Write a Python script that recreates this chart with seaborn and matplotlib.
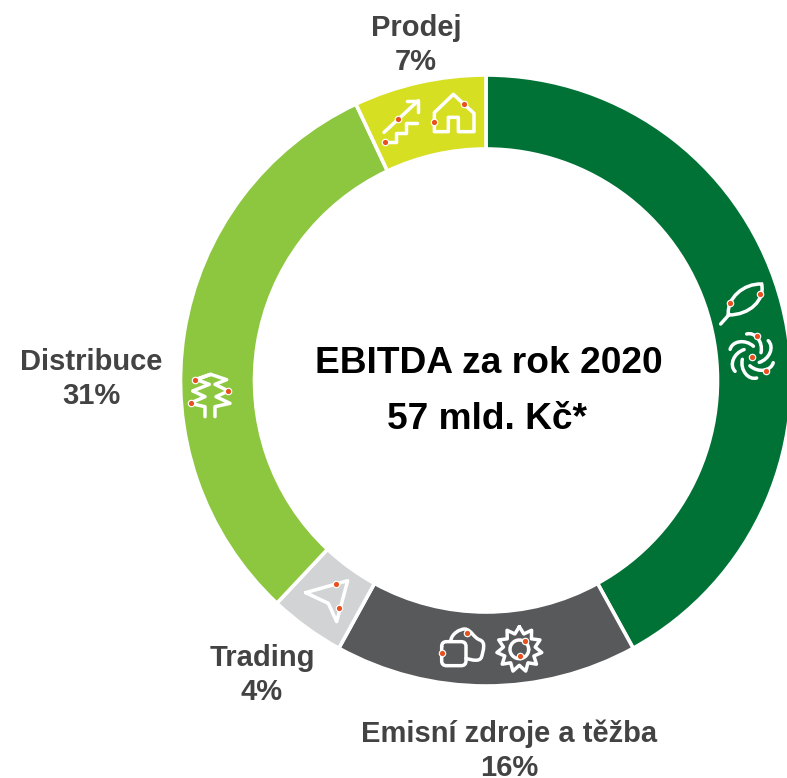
import numpy as np
import matplotlib
matplotlib.use("Agg")
import matplotlib.pyplot as plt
from matplotlib.path import Path
from matplotlib.patches import PathPatch
import seaborn as sns

categories = ["", "Emisní zdroje a těžba", "Trading", "Distribuce", "Prodej"]
values = [42, 16, 4, 31, 7]
colors = ["#007236", "#58595B", "#D1D3D4", "#8DC63F", "#D7DF23"]
title_lines = ["EBITDA za rok 2020", "57 mld. Kč*"]

W, H = 787, 778
sns.set_theme(style="white")
plt.rcParams["font.family"] = ["Liberation Sans", "DejaVu Sans"]
palette = sns.color_palette(colors)

fig = plt.figure(figsize=(W / 100, H / 100), dpi=100)
ax = fig.add_axes([0, 0, 1, 1])
ax.set_xlim(0, W)
ax.set_ylim(0, H)
ax.set_aspect("equal")
ax.axis("off")

CX, CY, R = 486, H - 380.5, 305.5
ax.pie(values, colors=palette, startangle=90, counterclock=False,
       center=(CX, CY), radius=R, frame=True,
       wedgeprops=dict(width=74, edgecolor="white", linewidth=2.6))
ax.set_xlim(0, W)
ax.set_ylim(0, H)
ax.axis("off")

LABEL_C = "#434343"
label_pos = {1: (509.5, 734), 2: (262, 658), 3: (91, 362), 4: (416, 28)}
for i, (x, y) in label_pos.items():
    ax.text(x, H - y, categories[i], ha="center", va="center", fontsize=21,
            fontweight="bold", color=LABEL_C)
    ax.text(x, H - y - 34, f"{values[i]}%", ha="center", va="center", fontsize=21,
            fontweight="bold", color=LABEL_C)

ax.text(488.5, H - 363, title_lines[0], ha="center", va="center", fontsize=26.7,
        fontweight="bold", color="black")
ax.text(487, H - 419, title_lines[1], ha="center", va="center", fontsize=26.7,
        fontweight="bold", color="black")

# ---- white line icons, given in crop coordinates (3x zoom, with crop origin)
LW = 2.5
DOT = "#E8501E"


def to_xy(pts, org):
    return [(org[0] + p[0] / 3, H - (org[1] + p[1] / 3)) for p in pts]


def line(pts, org, closed=False):
    xy = to_xy(pts, org)
    if closed:
        xy = xy + [xy[0]]
    ax.plot(*zip(*xy), color="white", lw=LW, solid_joinstyle="round",
            solid_capstyle="round", zorder=5)


def curve(pts, org):
    xy = to_xy(pts, org)
    codes = [Path.MOVETO] + [Path.CURVE4] * (len(xy) - 1)
    ax.add_patch(PathPatch(Path(xy, codes), fc="none", ec="white", lw=LW,
                           capstyle="round", zorder=5))


def dots(pts, org):
    xy = to_xy(pts, org)
    ax.scatter(*zip(*xy), s=30, color="white", zorder=6, linewidths=0)
    ax.scatter(*zip(*xy), s=14, color=DOT, zorder=7, linewidths=0)


def rotate(pts, c, a):
    ca, sa = np.cos(a), np.sin(a)
    return [(c[0] + (p[0] - c[0]) * ca - (p[1] - c[1]) * sa,
             c[1] + (p[0] - c[0]) * sa + (p[1] - c[1]) * ca) for p in pts]


# leaf
o = (700, 270)
line([(62, 162), (88, 133)], o)
curve([(85, 135), (80, 85), (130, 40), (185, 42), (195, 90), (150, 135), (85, 135)], o)
dots([(91, 98), (180, 73)], o)

# rotor
c = (155, 258)
blade = [(140, 192), (165, 185), (190, 215), (183, 248)]
for k in range(6):
    curve(rotate(blade, c, k * np.pi / 3), o)
dots([(170, 198), (155, 260), (197, 302)], o)

# stairs and house
o = (370, 80)
line([(42, 157), (145, 62)], o)
line([(112, 62), (145, 62), (145, 95)], o)
line([(45, 187), (78, 187), (78, 158), (108, 158), (108, 128), (140, 128)], o)
dots([(45, 187), (85, 118)], o)
line([(193, 126), (193, 98), (250, 43), (312, 100), (312, 155), (265, 155), (265, 112),
      (235, 112), (235, 155), (193, 155), (193, 126)], o)
dots([(283, 71), (193, 126)], o)

# coal
o = (430, 615)
curve([(35, 95), (35, 85), (40, 80), (50, 80), (65, 80), (80, 80), (93, 80),
       (103, 80), (108, 85), (108, 95), (108, 110), (108, 125), (108, 137),
       (108, 147), (103, 152), (93, 152), (80, 152), (65, 152), (50, 152),
       (40, 152), (35, 147), (35, 137), (35, 125), (35, 110), (35, 95)], o)
curve([(62, 78), (65, 55), (90, 42), (105, 42), (125, 45), (130, 68), (150, 75),
       (168, 82), (160, 105), (155, 125), (150, 142), (125, 135), (108, 130)], o)
dots([(112, 54), (37, 113)], o)

# gear
g = (268, 103)
n = 11
ang = np.arange(2 * n) * np.pi / n - np.pi / 2
rad = np.where(np.arange(2 * n) % 2 == 0, 68, 48)
line(list(zip(g[0] + rad * np.cos(ang), g[1] + rad * np.sin(ang))), o, closed=True)
t = np.linspace(0, 2 * np.pi, 60)
line(list(zip(g[0] + 28 * np.cos(t), g[1] + 28 * np.sin(t))), o)
dots([(285, 77), (270, 122)], o)

# pylon / tree
o = (180, 365)
line([(45, 44), (92, 28), (50, 44), (88, 58), (38, 78), (75, 95), (30, 115), (75, 125), (75, 155)], o)
line([(92, 28), (140, 44), (105, 58), (145, 78), (108, 95), (150, 115), (105, 125), (105, 155)], o)
dots([(45, 44), (143, 78), (32, 115)], o)

# trading arrow
o = (295, 570)
line([(32, 68), (158, 32), (125, 155), (100, 100), (32, 68)], o)
dots([(124, 42), (132, 114)], o)

fig.savefig("out.png", dpi=100, facecolor="white")
